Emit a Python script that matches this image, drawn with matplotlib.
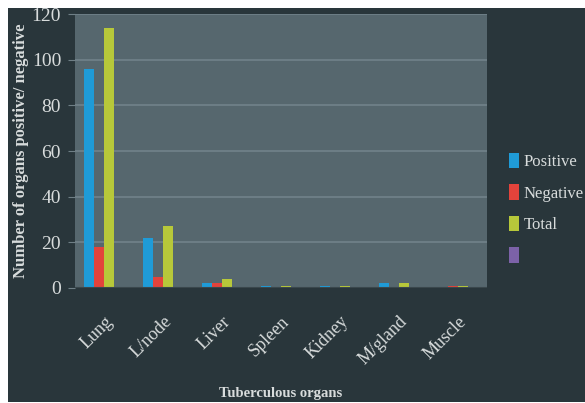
import numpy as np
import matplotlib.pyplot as plt
from matplotlib.patches import Rectangle

organs = ['Lung', 'L/node', 'Liver', 'Spleen', 'Kidney', 'M/gland', 'Muscle']
positive = [96, 22, 2, 1, 1, 2, 0]
negative = [18, 5, 2, 0, 0, 0, 1]
total = [114, 27, 4, 1, 1, 2, 1]
series_names = ['Positive', 'Negative', 'Total', ' ']
colors = ['#1f9bd7', '#e3433b', '#b7c83a', '#7c62a8']

bg = '#29363b'
plot_bg = '#56676e'
txt = '#d8dcdc'

plt.rcParams['font.family'] = ['Liberation Serif', 'DejaVu Serif']

fig = plt.figure(figsize=(5.85, 4.03), dpi=100, facecolor='white')
fig.patches.append(Rectangle((8 / 585, 1 / 403), 1, (403 - 9) / 403, transform=fig.transFigure,
                             facecolor=bg, edgecolor='none', zorder=-10))

ax = fig.add_axes([75 / 585, (403 - 288) / 403, 412 / 585, (288 - 14) / 403])
ax.set_facecolor(plot_bg)

x = np.arange(len(organs))
w = 0.17
data = [positive, negative, total, [0] * len(organs)]
for j, (vals, c, name) in enumerate(zip(data, colors, series_names)):
    ax.bar(x + (j - 1.5) * w, vals, width=w, color=c, label=name, zorder=3,
           edgecolor='none')

ax.set_xlim(-0.5, len(organs) - 0.5)
ax.set_ylim(0, 120)
ax.set_yticks(range(0, 121, 20))
ax.yaxis.grid(True, color='#71828a', linewidth=1.2, zorder=1)
for s in ax.spines.values():
    s.set_visible(False)
ax.tick_params(axis='x', length=0, colors=txt, pad=18)
ax.tick_params(axis='y', length=5, width=0.8, color='#6f7f86', labelcolor=txt,
               labelsize=14, pad=5)
ax.set_xticks(x)
ax.set_xticklabels(organs, rotation=45, ha='right', rotation_mode='anchor', fontsize=13,
                   color=txt)
ax.axhline(0, color='#3a474c', linewidth=1.5, zorder=4)

ax.set_ylabel('Number of organs positive/ negative', fontsize=12, fontweight='bold',
              color=txt, labelpad=2)
fig.text(281 / 585, 1 - 394 / 403, 'Tuberculous organs', fontsize=10.5, fontweight='bold',
         color=txt, ha='center', va='center')

leg = fig.legend(loc='upper left', bbox_to_anchor=(502 / 585, 1 - 146 / 403),
                 frameon=False, fontsize=12, handlelength=0.6, handleheight=1.05,
                 handletextpad=0.3, labelspacing=0.85, borderaxespad=0)
for t in leg.get_texts():
    t.set_color(txt)

fig.savefig('out.png', dpi=100, facecolor=fig.get_facecolor())
